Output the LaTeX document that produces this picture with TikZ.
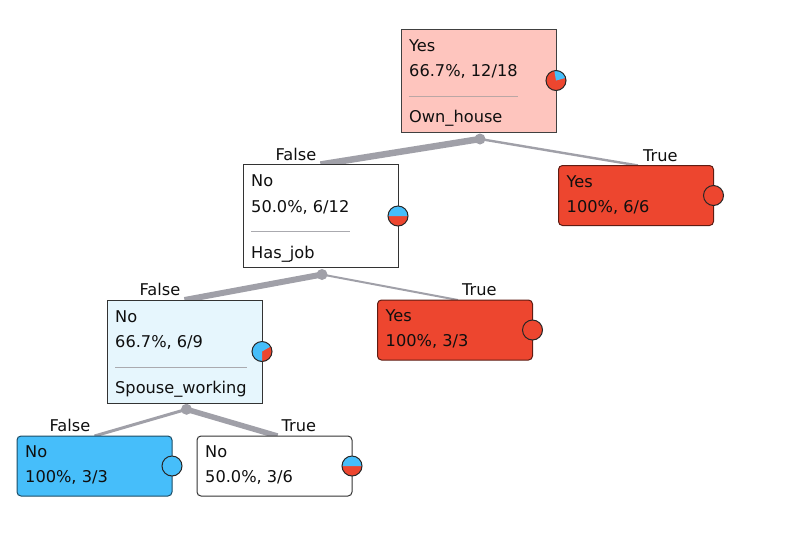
\documentclass[tikz,border=0pt]{standalone}
\usepackage{fontspec}
\setmainfont{DejaVu Sans}
\usetikzlibrary{calc,backgrounds}
\definecolor{cred}{RGB}{237,70,47}
\definecolor{cblue}{RGB}{70,190,250}
\definecolor{lightred}{RGB}{254,197,190}
\definecolor{lightblue}{RGB}{230,246,253}
\definecolor{edgecol}{RGB}{160,160,168}
\definecolor{sepcol}{RGB}{170,170,175}
\definecolor{txtcol}{RGB}{15,15,15}
\newcommand{\mypie}[3]{%
  \fill[cred] (#1) circle[radius=10pt];
  \fill[cblue] (#1) -- ++(#2:10pt) arc[start angle=#2, end angle=#3, radius=10pt] -- cycle;
  \draw[black!85, line width=1pt] (#1) circle[radius=10pt];}
\newcommand{\fullpie}[2]{%
  \fill[#2] (#1) circle[radius=10pt];
  \draw[black!85, line width=1pt] (#1) circle[radius=10pt];}
\begin{document}
\begin{tikzpicture}[x=1pt,y=-1pt, font=\fontsize{16.2}{19}\selectfont,
  box/.style={draw=black!80, line width=1pt, minimum width=155pt, minimum height=103pt, inner sep=0pt, outer sep=0pt},
  leafbox/.style={box, minimum height=60pt, rounded corners=4pt},
  txt/.style={anchor=base west, inner sep=0pt, text=txtcol},
  edgeline/.style={draw=edgecol, line cap=butt},
  sepline/.style={draw=sepcol, line width=1pt},
  dotn/.style={circle, fill=edgecol, inner sep=0pt, minimum size=11pt},
  lbl/.style={inner sep=0pt, text=txtcol}]
\useasboundingbox (0,0) rectangle (792,542);
% boxes
\node[box, fill=lightred, draw=black!75] (root) at (478.5,80.5) {};
\node[box, fill=white] (hj) at (320.5,216) {};
\node[box, fill=lightblue] (sp) at (184.5,351.5) {};
\node[leafbox, fill=cred, draw=cred!40!black] (y6) at (636,195.5) {};
\node[leafbox, fill=cred, draw=cred!40!black] (y3) at (455,330) {};
\node[leafbox, fill=cblue, draw=cblue!40!black] (n3) at (94.5,466) {};
\node[leafbox, fill=white] (n6) at (274.5,466) {};
% root texts
\node[txt] (r1) at ($(root.north west)+(8,22)$) {Yes};
\node[txt] (r2) at ($(root.north west)+(8,47.5)$) {66.7\%, 12/18};
\coordinate (rs) at ($(root.north west)+(0,67)$);
\draw[sepline, draw=lightred!55!black!60] (r2.west |- rs) -- (r2.east |- rs);
\node[txt] (r3) at ($(root.north west)+(8,93.5)$) {Own\_house};
% has_job texts
\node[txt] (h1) at ($(hj.north west)+(8,22)$) {No};
\node[txt] (h2) at ($(hj.north west)+(8,48)$) {50.0\%, 6/12};
\coordinate (hs) at ($(hj.north west)+(0,67)$);
\draw[sepline] (h2.west |- hs) -- (h2.east |- hs);
\node[txt] (h3) at ($(hj.north west)+(8,93.5)$) {Has\_job};
% spouse texts
\node[txt] (s1) at ($(sp.north west)+(8,22.5)$) {No};
\node[txt] (s2) at ($(sp.north west)+(8,47)$) {66.7\%, 6/9};
\coordinate (ss) at ($(sp.north west)+(0,67)$);
\node[txt] (s3) at ($(sp.north west)+(8,93)$) {Spouse\_working};
\draw[sepline] (s3.west |- ss) -- (s3.east |- ss);
% leaf texts
\node[txt] (ya) at ($(y6.north west)+(8,21.5)$) {Yes};
\node[txt] (yb) at ($(y6.north west)+(8,46.5)$) {100\%, 6/6};
\node[txt] (za) at ($(y3.north west)+(8,21.5)$) {Yes};
\node[txt] (zb) at ($(y3.north west)+(8,46.5)$) {100\%, 3/3};
\node[txt] (na) at ($(n3.north west)+(8,21.5)$) {No};
\node[txt] (nb) at ($(n3.north west)+(8,46.5)$) {100\%, 3/3};
\node[txt] (ma) at ($(n6.north west)+(8,21.5)$) {No};
\node[txt] (mb) at ($(n6.north west)+(8,46.5)$) {50.0\%, 3/6};
% split dots
\node[dotn] (d1) at (480,139) {};
\node[dotn] (d2) at (322,274.5) {};
\node[dotn] (d3) at (186.5,409.3) {};
% edges
\begin{scope}[on background layer]
\draw[edgeline, line width=6.5pt] (d1.center) -- (hj.north);
\draw[edgeline, line width=2.4pt] (d1.center) -- ($(y6.north)+(2,0)$);
\draw[edgeline, line width=6pt] (d2.center) -- (sp.north);
\draw[edgeline, line width=2pt] (d2.center) -- ($(y3.north)+(3,0)$);
\draw[edgeline, line width=3pt] (d3.center) -- (n3.north);
\draw[edgeline, line width=5.5pt] (d3.center) -- ($(n6.north)+(3,0)$);
\end{scope}
% edge labels
\node[lbl, anchor=base east] (l1) at ($(hj.north)+(-4,-4.5)$) {False};
\node[lbl, anchor=base west] (l2) at ($(y6.north)+(7,-4.5)$) {True};
\node[lbl, anchor=base east] (l3) at ($(sp.north)+(-4,-4.5)$) {False};
\node[lbl, anchor=base west] (l4) at ($(y3.north)+(7,-4.5)$) {True};
\node[lbl, anchor=base east] (l5) at ($(n3.north)+(-4,-4.5)$) {False};
\node[lbl, anchor=base west] (l6) at ($(n6.north)+(7,-4.5)$) {True};
% pies
\mypie{root.east}{15}{100}
\mypie{hj.east}{0}{180}
\mypie{sp.east}{30}{270}
\fullpie{y6.east}{cred}
\fullpie{y3.east}{cred}
\fullpie{n3.east}{cblue}
\mypie{n6.east}{0}{180}
\end{tikzpicture}
\end{document}
